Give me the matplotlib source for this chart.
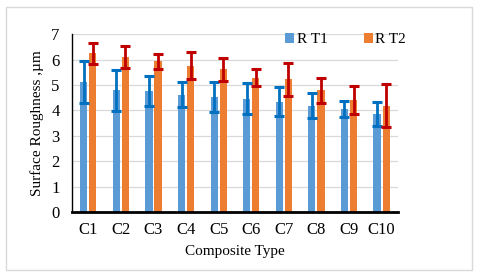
import matplotlib.pyplot as plt
import numpy as np
from matplotlib.patches import Rectangle

plt.rcParams["font.family"] = ["Liberation Serif", "DejaVu Serif"]

# Data
categories = ["C1", "C2", "C3", "C4", "C5", "C6", "C7", "C8", "C9", "C10"]
rt1 = [5.12, 4.79, 4.76, 4.62, 4.53, 4.46, 4.33, 4.19, 4.04, 3.86]
rt1_err = [0.83, 0.80, 0.60, 0.50, 0.60, 0.62, 0.57, 0.50, 0.32, 0.46]
rt2 = [6.24, 6.10, 5.93, 5.76, 5.62, 5.29, 5.22, 4.79, 4.40, 4.19]
rt2_err = [0.40, 0.45, 0.30, 0.53, 0.45, 0.35, 0.65, 0.50, 0.55, 0.86]

fig = plt.figure(figsize=(4.8, 2.75), dpi=100)
ax = fig.add_axes([0.15, 0.229, 0.679, 0.647])

x = np.arange(len(categories))
w = 0.22
off = 0.14

ax.bar(x - off, rt1, w, color="#5B9BD5", label="R T1", zorder=2)
ax.bar(x + off, rt2, w, color="#ED7D31", label="R T2", zorder=2)
ax.errorbar(x - off, rt1, yerr=rt1_err, fmt="none", ecolor="#0070C0",
            elinewidth=2, capsize=3.3, capthick=2.2, zorder=3)
ax.errorbar(x + off, rt2, yerr=rt2_err, fmt="none", ecolor="#C00000",
            elinewidth=2, capsize=3.3, capthick=2.2, zorder=3)

ax.set_xlim(-0.5, len(categories) - 0.5)
ax.set_ylim(0, 7)
ax.set_yticks(range(8))
ax.set_xticks(x)
ax.set_xticklabels(categories)
ax.tick_params(length=0, labelsize=12, pad=7)
ax.tick_params(axis="y", pad=9)
ax.yaxis.grid(True, color="#D9D9D9", linewidth=0.9, zorder=0)
ax.set_axisbelow(True)

for s in ["top", "right"]:
    ax.spines[s].set_visible(False)
ax.spines["left"].set_linewidth(1.0)
ax.spines["bottom"].set_linewidth(2.0)

ax.set_xlabel("Composite Type", fontsize=11, labelpad=5)
ax.set_ylabel("Surface Roughness ,µm", fontsize=11, labelpad=5)

fig.legend(loc="center", bbox_to_anchor=(0.72, 0.855), ncol=2, frameon=False,
           fontsize=11, handlelength=0.6, handleheight=0.6, columnspacing=2.4,
           handletextpad=0.15)

fig.patches.append(Rectangle((6 / 480, 5 / 275), 466 / 480, 263 / 275,
                             transform=fig.transFigure, fill=False,
                             edgecolor="#D9D9D9", linewidth=1.0))

fig.savefig("out.png", dpi=100)
